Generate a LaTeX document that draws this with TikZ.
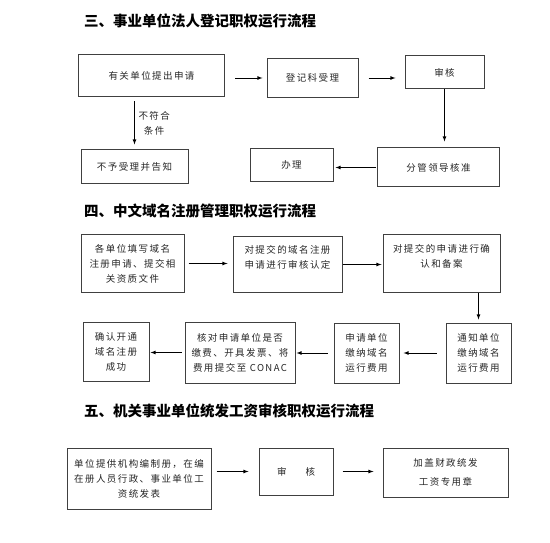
\documentclass[tikz,border=0pt]{standalone}
\usepackage{fontspec}
\setmainfont{Noto Sans CJK SC}
\newfontfamily\boxfont[LetterSpace=15]{Noto Sans CJK SC}
\usetikzlibrary{shapes,arrows}
\tikzstyle{title} = [anchor=west, inner sep=0pt, font=\fontsize{14.5}{16}\selectfont\bfseries]
\tikzstyle{process} = [rectangle, draw=black!75, line width=1pt, text=black!85, align=center, inner sep=2pt, font=\boxfont\fontsize{9.5}{15}\selectfont]
\tikzstyle{arrow} = [line width=0.8pt,->,>=latex]

\begin{document}
\begin{tikzpicture}[x=1pt,y=-1pt]
\useasboundingbox (0,0) rectangle (550,543);

% section three
\node (t3) [title] at (84,21) {三、事业单位法人登记职权运行流程};
\node (apply) [process, minimum width=146pt, minimum height=42pt] at (151.5,76) {有关单位提出申请};
\node (accept) [process, minimum width=91pt, minimum height=39pt] at (312.5,78) {登记科受理};
\node (check) [process, minimum width=79pt, minimum height=33pt] at (444.5,72.5) {审核};
\node (lead) [process, minimum width=122pt, minimum height=39pt] at (438.5,167.5) {分管领导核准};
\node (handle) [process, minimum width=83pt, minimum height=33pt] at (291.5,165) {办理};
\node (reject) [process, minimum width=107pt, minimum height=34pt] at (134.5,167) {不予受理并告知};

\draw [arrow, shorten <=10pt, shorten >=4pt] (apply.east |- accept.west) -- (accept.west);
\draw [arrow, shorten <=10pt, shorten >=9pt] (accept.east) -- (accept.east -| check.west);
\draw [arrow, shorten >=6pt] (check.south) -- (check.south |- lead.north);
\draw [arrow, shorten <=1pt, shorten >=2pt] (lead.west) -- (lead.west -| handle.east);
\draw [arrow, shorten <=4pt, shorten >=5pt] (reject.north |- apply.south) -- (reject.north)
  node [midway, right=4pt, process, draw=none, line width=0pt, inner sep=0pt] (nofit) {不符合\\条件};

% section four
\node (t4) [title] at (84,211) {四、中文域名注册管理职权运行流程};
\node (fill) [process, minimum width=103pt, minimum height=57pt] at (132.5,263.5) {各单位填写域名\\注册申请、提交相\\关资质文件};
\node (review) [process, minimum width=109pt, minimum height=55pt, text depth=16pt] at (287.5,264.5) {对提交的域名注册\\申请进行审核认定};
\node (record) [process, minimum width=117pt, minimum height=57pt, text depth=16pt] at (441.5,263.5) {对提交的申请进行确\\认和备案};
\node (notify) [process, minimum width=65pt, minimum height=60pt] at (478.5,353) {通知单位\\缴纳域名\\运行费用};
\node (pay) [process, minimum width=65pt, minimum height=60pt] at (366.5,353) {申请单位\\缴纳域名\\运行费用};
\node (verify) [process, minimum width=110pt, minimum height=61pt] at (240,352.5) {核对申请单位是否\\缴费、开具发票、将\\费用提交至 CONAC};
\node (done) [process, minimum width=66pt, minimum height=59pt] at (116,351.5) {确认开通\\域名注册\\成功};

\draw [arrow, shorten <=4pt, shorten >=5pt] (fill.east) -- (fill.east -| review.west);
\draw [arrow, shorten >=1pt] (review.east) -- (review.east -| record.west);
\draw [arrow, shorten >=3pt] (record.south -| notify.north) -- (notify.north);
\draw [arrow, shorten <=9pt, shorten >=4pt] (notify.west |- pay.east) -- (pay.east);
\draw [arrow, shorten <=6pt, shorten >=1pt] (pay.west) -- (pay.west -| verify.east);
\draw [arrow, shorten <=3pt, shorten >=1pt] (verify.west) -- (verify.west -| done.east);

% section five
\node (t5) [title] at (84,411) {五、机关事业单位统发工资审核职权运行流程};
\node (book) [process, minimum width=144pt, minimum height=61pt] at (139,478.5) {单位提供机构编制册，在编\\在册人员行政、事业单位工\\资统发表};
\node (audit) [process, minimum width=74pt, minimum height=47pt] at (296,471.5) {审\quad\quad 核};
\node (stamp) [process, minimum width=125pt, minimum height=49pt, font=\boxfont\fontsize{9.5}{19}\selectfont] at (445.5,472.5) {加盖财政统发\\工资专用章};

\draw [arrow, shorten <=5pt, shorten >=10pt] (book.east |- audit.west) -- (audit.west);
\draw [arrow, shorten <=9pt, shorten >=9pt] (audit.east) -- (audit.east -| stamp.west);
\end{tikzpicture}
\end{document}
